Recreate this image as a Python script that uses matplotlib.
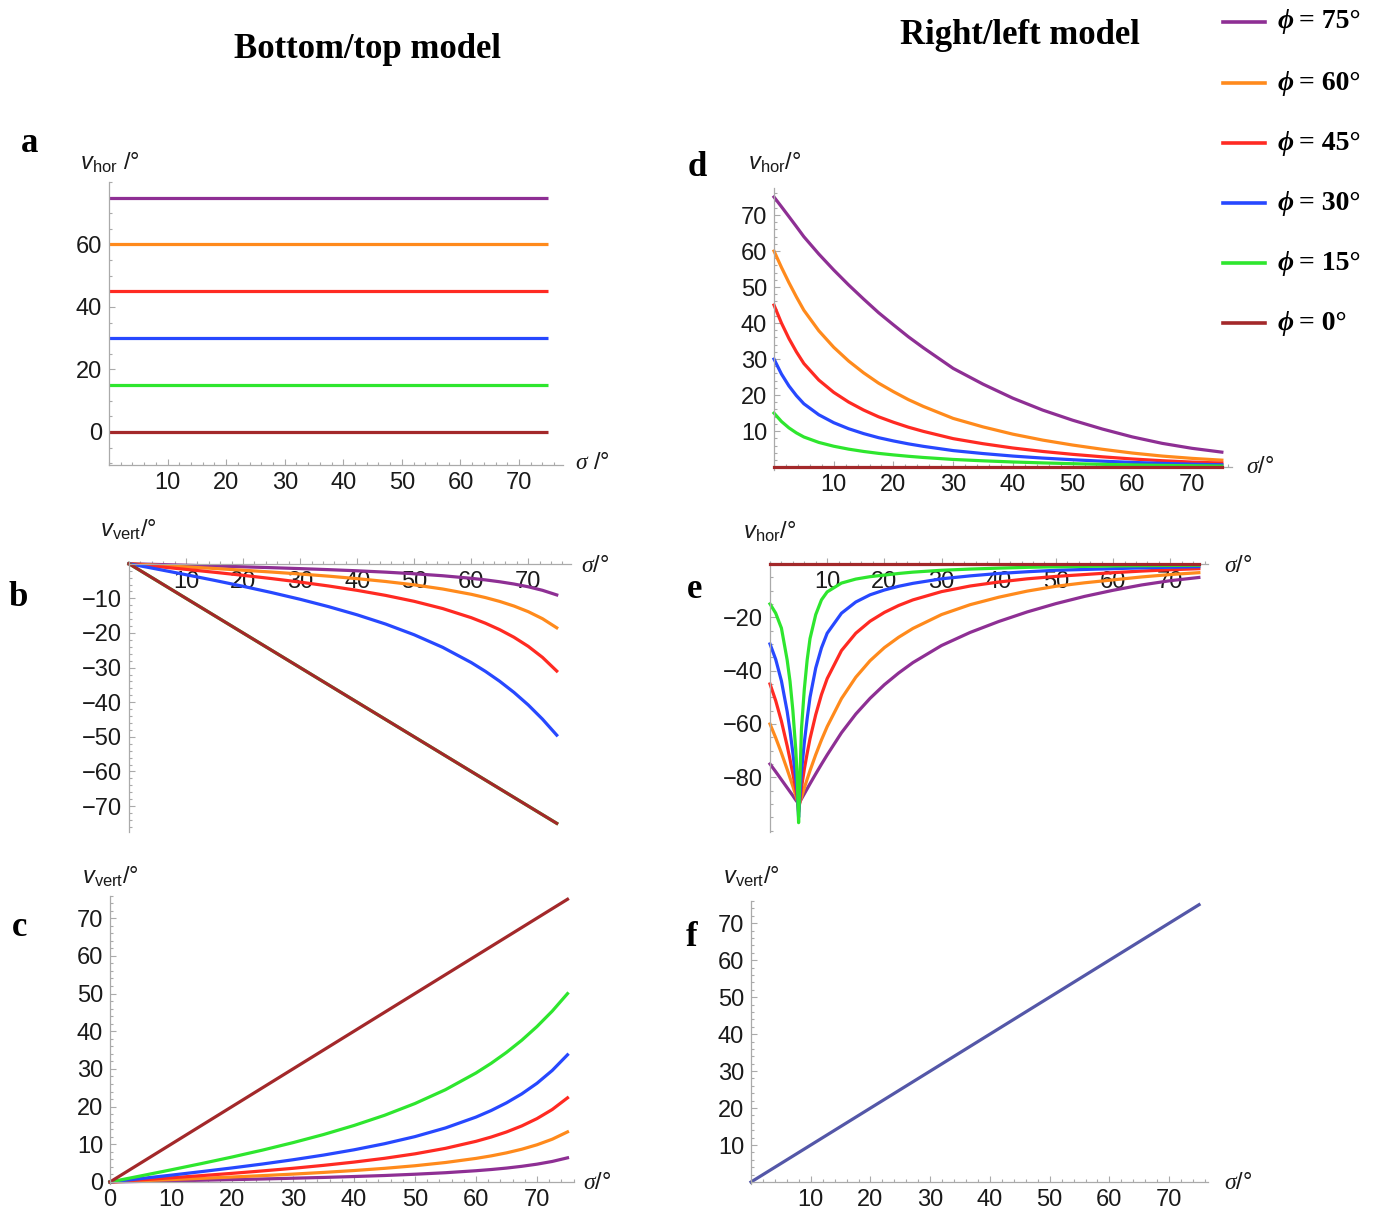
import matplotlib
matplotlib.use('Agg')
import matplotlib.pyplot as plt
from matplotlib.lines import Line2D

plt.rcParams['font.family'] = ['Liberation Sans', 'DejaVu Sans']
plt.rcParams['mathtext.fontset'] = 'custom'
plt.rcParams['mathtext.rm'] = 'Liberation Sans'
plt.rcParams['mathtext.it'] = 'Liberation Serif:italic'
plt.rcParams['mathtext.sf'] = 'Liberation Sans:italic'

# ---- data ----
phis = [75, 60, 45, 30, 15, 0]
colors = ['#8e2f94', '#ff8a1c', '#ff2a22', '#2748ff', '#2ee62e', '#a3282a']
f_color = '#5457a8'

# a: bottom/top model, horizontal component is constant
a_sigma = [0, 75]

# b, c: bottom/top model, vertical component
bc_sigma = [0, 5, 10, 15, 20, 25, 30, 35, 40, 45, 50, 55, 60, 62.5, 65, 67.5, 70, 72.5, 75]
b_vert_75 = [0, -0.21, -0.43, -0.65, -0.89, -1.14, -1.41, -1.71, -2.04, -2.43, -2.90, -3.47, -4.21, -4.67, -5.21, -5.86, -6.66, -7.68, -9.01]
b_vert_60 = [0, -0.45, -0.91, -1.38, -1.87, -2.40, -2.97, -3.59, -4.31, -5.13, -6.10, -7.30, -8.83, -9.78, -10.89, -12.22, -13.85, -15.88, -18.51]
b_vert_45 = [0, -0.81, -1.63, -2.47, -3.35, -4.29, -5.31, -6.43, -7.69, -9.15, -10.86, -12.95, -15.58, -17.19, -19.05, -21.24, -23.86, -27.05, -31.0]
b_vert_30 = [0, -1.57, -3.17, -4.81, -6.52, -8.33, -10.27, -12.40, -14.76, -17.43, -20.52, -24.15, -28.54, -31.10, -33.96, -37.17, -40.79, -44.9, -49.52]
b_vert_15 = [0, -5, -10, -15, -20, -25, -30, -35, -40, -45, -50, -55, -60, -62.5, -65, -67.5, -70, -72.5, -75]
b_vert_0 = [0, -5, -10, -15, -20, -25, -30, -35, -40, -45, -50, -55, -60, -62.5, -65, -67.5, -70, -72.5, -75]

c_vert_75 = [0, 0.15, 0.30, 0.46, 0.63, 0.80, 1.00, 1.21, 1.45, 1.72, 2.06, 2.46, 2.99, 3.31, 3.69, 4.16, 4.73, 5.45, 6.41]
c_vert_60 = [0, 0.32, 0.64, 0.97, 1.32, 1.69, 2.09, 2.54, 3.04, 3.62, 4.31, 5.17, 6.26, 6.93, 7.73, 8.69, 9.87, 11.35, 13.29]
c_vert_45 = [0, 0.55, 1.11, 1.69, 2.29, 2.94, 3.63, 4.41, 5.28, 6.28, 7.47, 8.93, 10.79, 11.93, 13.27, 14.87, 16.82, 19.23, 22.32]
c_vert_30 = [0, 0.90, 1.81, 2.75, 3.73, 4.77, 5.90, 7.14, 8.54, 10.15, 12.04, 14.34, 17.22, 18.97, 21.0, 23.37, 26.19, 29.59, 33.74]
c_vert_15 = [0, 1.60, 3.22, 4.89, 6.62, 8.46, 10.44, 12.59, 14.99, 17.69, 20.82, 24.49, 28.92, 31.50, 34.38, 37.60, 41.24, 45.33, 49.97]
c_vert_0 = [0, 5, 10, 15, 20, 25, 30, 35, 40, 45, 50, 55, 60, 62.5, 65, 67.5, 70, 72.5, 75]

# d: right/left model, horizontal component
d_sigma = [0, 1.25, 2.5, 3.75, 5, 7.5, 10, 12.5, 15, 17.5, 20, 22.5, 25, 30, 35, 40, 45, 50, 55, 60, 65, 70, 75]
d_hor_75 = [75, 72.3, 69.56, 66.79, 63.98, 59.17, 54.74, 50.58, 46.67, 42.90, 39.51, 36.19, 33.15, 27.42, 23.04, 19.14, 15.83, 13.03, 10.57, 8.39, 6.60, 5.22, 4.16]
d_hor_60 = [60, 55.46, 51.23, 47.27, 43.56, 37.87, 33.28, 29.45, 26.19, 23.33, 20.95, 18.75, 16.86, 13.53, 11.17, 9.15, 7.50, 6.13, 4.95, 3.91, 3.07, 2.43, 1.93]
d_hor_45 = [45, 40.0, 35.71, 32.01, 28.77, 24.18, 20.76, 18.06, 15.85, 13.98, 12.46, 11.09, 9.93, 7.91, 6.50, 5.31, 4.35, 3.55, 2.86, 2.26, 1.78, 1.40, 1.12]
d_hor_30 = [30, 25.85, 22.54, 19.85, 17.59, 14.54, 12.34, 10.66, 9.31, 8.18, 7.27, 6.46, 5.77, 4.59, 3.77, 3.07, 2.51, 2.05, 1.65, 1.31, 1.03, 0.81, 0.65]
d_hor_15 = [15, 12.67, 10.90, 9.50, 8.37, 6.86, 5.80, 4.99, 4.35, 3.82, 3.39, 3.01, 2.68, 2.13, 1.75, 1.43, 1.17, 0.95, 0.77, 0.61, 0.48, 0.38, 0.30]
d_hor_0 = [0] * 23

# e: right/left model, horizontal component on the other side
e_sigma = [0, 1, 2, 3, 3.5, 4, 4.5, 4.75, 5, 5.5, 6, 6.5, 7, 8, 9, 10, 12.5, 15, 17.5, 20, 22.5, 25,
           30, 35, 40, 45, 50, 55, 60, 65, 70, 75]
e_hor_75 = [-75, -77.9, -80.9, -83.9, -85.4, -86.9, -88.5, -89.2, -90, -88.1, -86.2, -84.3, -82.4, -78.7, -75.1, -71.6,
            -63.3, -56.3, -50.4, -45.3, -40.9, -37.0, -30.6, -25.7, -21.6, -18.0, -14.9, -12.2, -9.9, -7.9, -6.3, -5.1]
e_hor_60 = [-60, -65.2, -70.9, -77.0, -80.2, -83.4, -86.7, -88.3, -91, -87.5, -84.0, -80.7, -77.5, -71.5, -66.0, -61.0,
            -50.5, -42.5, -36.3, -31.4, -27.5, -24.2, -19.0, -15.3, -12.5, -10.2, -8.4, -7.1, -6.0, -4.9, -4.0, -3.3]
e_hor_45 = [-45, -51.3, -59.0, -68.2, -73.3, -78.7, -84.3, -87.1, -93, -84.0, -77.0, -71.0, -65.5, -56.5, -49.0, -43.0,
            -32.5, -26.0, -21.5, -18.2, -15.6, -13.5, -10.4, -8.3, -6.8, -5.6, -4.7, -4.0, -3.3, -2.7, -2.2, -1.8]
e_hor_30 = [-30, -35.8, -43.9, -55.3, -62.55, -70.9, -80.2, -85.05, -95, -78.0, -67.0, -58.0, -50.0, -39.0, -31.5, -26.0,
            -18.5, -14.3, -11.6, -9.8, -8.4, -7.3, -5.6, -4.5, -3.6, -2.95, -2.4, -2.1, -1.8, -1.5, -1.25, -1.05]
e_hor_15 = [-15, -18.5, -24.1, -36.0, -44.0, -55.0, -69.5, -79.4, -97, -62.0, -47.0, -36.0, -28.0, -19.0, -13.5, -10.5,
            -7.2, -5.7, -4.8, -4.2, -3.6, -3.1, -2.4, -1.95, -1.6, -1.3, -1.1, -0.95, -0.8, -0.7, -0.6, -0.5]
e_hor_0 = [0] * 32

# f: right/left model, vertical component
f_sigma = [0, 75]
f_vert = [0, 75]

b_series = [b_vert_75, b_vert_60, b_vert_45, b_vert_30, b_vert_15, b_vert_0]
c_series = [c_vert_75, c_vert_60, c_vert_45, c_vert_30, c_vert_15, c_vert_0]
d_series = [d_hor_75, d_hor_60, d_hor_45, d_hor_30, d_hor_15, d_hor_0]
e_series = [e_hor_75, e_hor_60, e_hor_45, e_hor_30, e_hor_15, e_hor_0]

# ---- layout ----
W, H = 1380, 1211
fig = plt.figure(figsize=(W / 100, H / 100), dpi=100)
AX_GRAY = '#aaaaaa'
LW = 2.3


def box(l, r, t, b):
    return [l / W, 1 - b / H, (r - l) / W, (b - t) / H]


def px(x, y):
    return x / W, 1 - y / H


def frange(a, b, step):
    out = []
    v = a
    while v <= b + 1e-9:
        out.append(round(v, 6))
        v += step
    return out


def style(ax, xlim, ylim, xaxis_at, xmaj, xstep, ymaj, ystep):
    ax.set_xlim(*xlim)
    ax.set_ylim(*ylim)
    ax.patch.set_alpha(0)
    for s in ['top', 'right']:
        ax.spines[s].set_visible(False)
    ax.spines['left'].set_position(('data', 0))
    ax.spines['bottom'].set_position(('data', xaxis_at))
    for s in ['left', 'bottom']:
        ax.spines[s].set_color(AX_GRAY)
        ax.spines[s].set_linewidth(0.9)
    ax.set_xticks(xmaj)
    ax.set_xticklabels([str(v) for v in xmaj])
    ax.set_yticks(ymaj)
    ax.set_yticklabels([str(v).replace('-', '\u2212') for v in ymaj])
    ax.set_xticks([v for v in frange(0, xlim[1], xstep) if v not in xmaj], minor=True)
    ax.set_yticks([v for v in frange(ystep * int(ylim[0] / ystep), ylim[1], ystep)
                   if v not in ymaj and ylim[0] <= v <= ylim[1]], minor=True)
    ax.tick_params(which='both', direction='in', color=AX_GRAY, width=0.8,
                   labelsize=17, labelcolor='#1a1a1a', pad=5)
    ax.tick_params(which='major', length=4.5)
    ax.tick_params(which='minor', length=2.5)


# a
ax_a = fig.add_axes(box(109, 563, 182, 465))
for phi, col in zip(phis, colors):
    ax_a.plot(a_sigma, [phi, phi], color=col, lw=LW, clip_on=False, solid_capstyle='butt')
style(ax_a, (0, 77.5), (-10.6, 80), -10.6, [10, 20, 30, 40, 50, 60, 70], 2, [0, 20, 40, 60], 5)

# b
ax_b = fig.add_axes(box(129, 571, 562, 832))
for ys, col in zip(b_series, colors):
    ax_b.plot(bc_sigma, ys, color=col, lw=LW, clip_on=False)
style(ax_b, (0, 77.5), (-77.5, 0.5), 0, [10, 20, 30, 40, 50, 60, 70], 2,
      [-10, -20, -30, -40, -50, -60, -70], 2)

# c
ax_c = fig.add_axes(box(110, 573.6, 895.5, 1183.5))
for ys, col in zip(c_series, colors):
    ax_c.plot(bc_sigma, ys, color=col, lw=LW, clip_on=False)
style(ax_c, (0, 76), (-0.4, 76), 0, [0, 10, 20, 30, 40, 50, 60, 70], 2,
      [0, 10, 20, 30, 40, 50, 60, 70], 2)

# d
ax_d = fig.add_axes(box(774, 1232, 188, 470))
for ys, col, phi in zip(d_series, colors, phis):
    ax_d.plot(d_sigma, ys, color=col, lw=LW, clip_on=False, zorder=3 if phi == 0 else 2)
style(ax_d, (0, 76.7), (-0.8, 77.5), 0, [10, 20, 30, 40, 50, 60, 70], 2,
      [10, 20, 30, 40, 50, 60, 70], 2)

# e
ax_e = fig.add_axes(box(770, 1208, 562, 832))
for ys, col, phi in zip(e_series, colors, phis):
    ax_e.plot(e_sigma, ys, color=col, lw=LW, clip_on=False, zorder=3 if phi == 0 else 2)
style(ax_e, (0, 76.6), (-100.5, 0.7), 0, [10, 20, 30, 40, 50, 60, 70], 2,
      [-20, -40, -60, -80], 5)

# f
ax_f = fig.add_axes(box(751, 1208, 901, 1183.5))
ax_f.plot(f_sigma, f_vert, color=f_color, lw=LW, clip_on=False)
style(ax_f, (0, 76.5), (-0.4, 76), 0, [10, 20, 30, 40, 50, 60, 70], 2,
      [10, 20, 30, 40, 50, 60, 70], 2)

# axis labels
lab = dict(fontsize=17, ha='center', va='center', color='#1a1a1a')
fig.text(*px(110, 163), r'$\mathsf{v}_{\mathrm{hor}}$ /°', **lab)
fig.text(*px(592, 463), r'$\sigma$ /°', **lab)
fig.text(*px(128, 530), r'$\mathsf{v}_{\mathrm{vert}}$/°', **lab)
fig.text(*px(595, 566), r'$\sigma$/°', **lab)
fig.text(*px(110, 877), r'$\mathsf{v}_{\mathrm{vert}}$/°', **lab)
fig.text(*px(597, 1183), r'$\sigma$/°', **lab)
fig.text(*px(775, 163), r'$\mathsf{v}_{\mathrm{hor}}$/°', **lab)
fig.text(*px(1260, 467), r'$\sigma$/°', **lab)
fig.text(*px(770, 532), r'$\mathsf{v}_{\mathrm{hor}}$/°', **lab)
fig.text(*px(1238, 566), r'$\sigma$/°', **lab)
fig.text(*px(751, 877), r'$\mathsf{v}_{\mathrm{vert}}$/°', **lab)
fig.text(*px(1238, 1183), r'$\sigma$/°', **lab)

# titles and panel letters
serif = ['Liberation Serif', 'DejaVu Serif']
fig.text(*px(368, 50), 'Bottom/top model', family=serif, weight='bold', fontsize=25,
         ha='center', va='center')
fig.text(*px(1020, 35), 'Right/left model', family=serif, weight='bold', fontsize=25,
         ha='center', va='center')
for letter, x, y in [('a', 30, 143), ('b', 18, 598), ('c', 20, 927),
                     ('d', 697, 167), ('e', 695, 590), ('f', 692, 938)]:
    fig.text(*px(x, y), letter, family=serif, weight='bold', fontsize=25,
             ha='center', va='center')

# legend
leg_y = [22, 83, 143, 203, 263, 323]
for phi, col, y in zip(phis, colors, leg_y):
    fig.add_artist(Line2D([1223 / W, 1265 / W], [1 - y / H, 1 - y / H], color=col, lw=2.6))
    fig.text(*px(1278, y), '\u03d5', family=serif, weight='bold', style='italic',
             fontsize=20, ha='left', va='center')
    fig.text(*px(1299, y), '= %d°' % phi, family=serif, weight='bold',
             fontsize=20, ha='left', va='center')

fig.savefig('out.png', dpi=100)
